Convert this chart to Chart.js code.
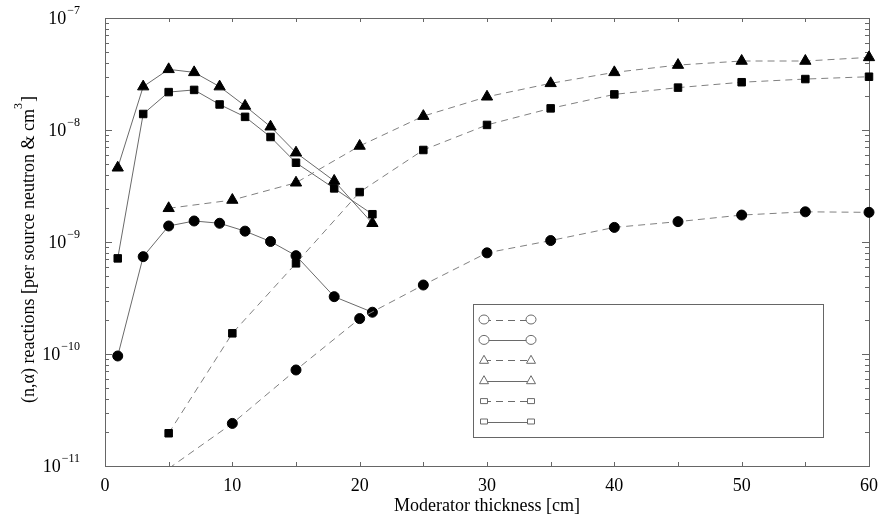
<!DOCTYPE html>
<html>
<head>
<meta charset="utf-8">
<script src="https://cdn.jsdelivr.net/npm/chart.js@4/dist/chart.umd.min.js"></script>
<style>
  html, body { margin: 0; padding: 0; background: #fff; }
</style>
</head>
<body>
<canvas id="reactionChart" width="881" height="516"></canvas>
<script>
// moderator thickness [cm]
var xShort = [1, 3, 5, 7, 9, 11, 13, 15, 18, 21];
var xLong = [5, 10, 15, 20, 25, 30, 35, 40, 45, 50, 55, 60];

// (n,alpha) reactions per source neutron & cm^3
var circleDashed = [9.5e-12, 2.4e-11, 7.2e-11, 2.07e-10, 4.13e-10, 8.0e-10, 1.03e-9, 1.35e-9, 1.52e-9, 1.74e-9, 1.86e-9, 1.84e-9];
var circleSolid = [9.6e-11, 7.4e-10, 1.39e-9, 1.54e-9, 1.47e-9, 1.25e-9, 1.01e-9, 7.55e-10, 3.25e-10, 2.36e-10];
var triangleDashed = [2.0e-9, 2.37e-9, 3.38e-9, 7.2e-9, 1.33e-8, 1.98e-8, 2.61e-8, 3.27e-8, 3.8e-8, 4.13e-8, 4.13e-8, 4.45e-8];
var triangleSolid = [4.6e-9, 2.44e-8, 3.48e-8, 3.27e-8, 2.44e-8, 1.64e-8, 1.07e-8, 6.27e-9, 3.51e-9, 1.47e-9];
var squareDashed = [1.96e-11, 1.53e-10, 6.45e-10, 2.79e-9, 6.63e-9, 1.11e-8, 1.56e-8, 2.08e-8, 2.39e-8, 2.67e-8, 2.85e-8, 2.99e-8];
var squareSolid = [7.14e-10, 1.39e-8, 2.18e-8, 2.28e-8, 1.69e-8, 1.31e-8, 8.66e-9, 5.10e-9, 3.01e-9, 1.77e-9];

var xTicks = [0, 10, 20, 30, 40, 50, 60];
var yExponents = [-7, -8, -9, -10, -11];

var AXIS_COLOR = '#666';
var SERIF = '"Liberation Serif", "Times New Roman", serif';

function pairs(xs, ys) {
    return xs.map(function(x, i) { return { x: x, y: ys[i] }; });
}

function series(xs, ys, style, dashed) {
    return {
        data: pairs(xs, ys),
        showLine: true,
        borderColor: dashed ? '#808080' : '#6a6a6a',
        borderWidth: 1,
        borderDash: dashed ? [7, 5] : [],
        pointStyle: style,
        pointRadius: function(ctx) {
            var v = ctx.raw ? ctx.raw.y : 1;
            if (v < 1e-11) return 0;
            return style === 'triangle' ? 6.5 : (style === 'rect' ? 5.3 : 5);
        },
        pointBackgroundColor: '#000',
        pointBorderColor: '#000',
        pointBorderWidth: 1,
        clip: { left: 8, top: 8, right: 8, bottom: 0 }
    };
}

function drawSymbol(ctx, style, x, y) {
    ctx.beginPath();
    if (style === 'circle') {
        ctx.ellipse(x, y, 5, 4.5, 0, 0, Math.PI * 2);
    } else if (style === 'triangle') {
        ctx.moveTo(x, y - 5);
        ctx.lineTo(x + 4.5, y + 3);
        ctx.lineTo(x - 4.5, y + 3);
        ctx.closePath();
    } else {
        ctx.rect(x - 3.5, y - 2.5, 7, 5);
    }
    ctx.fillStyle = '#fff';
    ctx.fill();
    ctx.stroke();
}

var framePlugin = {
    id: 'frame',
    beforeDatasetsDraw: function(chart) {
        var ctx = chart.ctx;
        var a = chart.chartArea;
        var xs = chart.scales.x, ys = chart.scales.y;
        ctx.save();
        ctx.strokeStyle = AXIS_COLOR;
        ctx.lineWidth = 1;
        ctx.strokeRect(Math.round(a.left) + 0.5, Math.round(a.top) + 0.5,
            Math.round(a.right - a.left), Math.round(a.bottom - a.top));

        // inward ticks, x every 5 cm
        ctx.beginPath();
        for (var v = 5; v < 60; v += 5) {
            var px = Math.round(xs.getPixelForValue(v)) + 0.5;
            ctx.moveTo(px, a.bottom); ctx.lineTo(px, a.bottom - 4);
            ctx.moveTo(px, a.top); ctx.lineTo(px, a.top + 4);
        }
        // log ticks on left and right
        for (var e = -11; e < -7; e++) {
            for (var m = 1; m < 10; m++) {
                if (m === 1 && e === -11) continue;
                var py = Math.round(ys.getPixelForValue(m * Math.pow(10, e))) + 0.5;
                var len = m === 1 ? 7 : 4;
                ctx.moveTo(a.left, py); ctx.lineTo(a.left + len, py);
                ctx.moveTo(a.right, py); ctx.lineTo(a.right - len, py);
            }
        }
        ctx.stroke();
        ctx.restore();
    },
    afterDraw: function(chart) {
        var ctx = chart.ctx;
        var a = chart.chartArea;
        var xs = chart.scales.x, ys = chart.scales.y;
        ctx.save();
        ctx.fillStyle = '#000';

        // x tick labels
        ctx.font = '18px ' + SERIF;
        ctx.textAlign = 'center';
        ctx.textBaseline = 'alphabetic';
        xTicks.forEach(function(t) {
            ctx.fillText(String(t), xs.getPixelForValue(t), a.bottom + 25);
        });
        ctx.fillText('Moderator thickness [cm]', (a.left + a.right) / 2, a.bottom + 45);

        // y tick labels 10^e
        yExponents.forEach(function(e) {
            var py = ys.getPixelForValue(Math.pow(10, e));
            var exp = '\u2212' + String(-e);
            ctx.font = '12px ' + SERIF;
            var expW = ctx.measureText(exp).width;
            var right = 80;
            ctx.textAlign = 'left';
            ctx.fillText(exp, right - expW, py - 4);
            ctx.font = '18px ' + SERIF;
            ctx.textAlign = 'right';
            ctx.fillText('10', right - expW - 1, py + 6);
        });

        // y axis title
        ctx.translate(34, (a.top + a.bottom) / 2 + 8);
        ctx.rotate(-Math.PI / 2);
        var main = '(n,\u03b1) reactions [per source neutron & cm';
        ctx.font = '18px ' + SERIF;
        var w1 = ctx.measureText(main).width;
        var w3 = ctx.measureText(']').width;
        ctx.font = '12px ' + SERIF;
        var w2 = ctx.measureText('3').width;
        var start = -(w1 + w2 + w3) / 2;
        ctx.textAlign = 'left';
        ctx.font = '18px ' + SERIF;
        ctx.fillText(main, start, 0);
        ctx.font = '12px ' + SERIF;
        ctx.fillText('3', start + w1, -12);
        ctx.font = '18px ' + SERIF;
        ctx.fillText(']', start + w1 + w2 + 1, 0);
        ctx.restore();

        // legend box (symbols only)
        var lx = 473, ly = 304, lw = 350, lh = 133;
        ctx.save();
        ctx.fillStyle = '#fff';
        ctx.fillRect(lx, ly, lw, lh);
        ctx.strokeStyle = AXIS_COLOR;
        ctx.lineWidth = 1;
        ctx.strokeRect(lx + 0.5, ly + 0.5, lw, lh);
        chart.data.datasets.forEach(function(ds, i) {
            var rowY = ly + 15.5 + i * 20.4;
            var x1 = 484, x2 = 531;
            ctx.strokeStyle = '#6a6a6a';
            ctx.setLineDash(ds.borderDash);
            ctx.beginPath();
            ctx.moveTo(x1, Math.round(rowY) + 0.5);
            ctx.lineTo(x2, Math.round(rowY) + 0.5);
            ctx.stroke();
            ctx.setLineDash([]);
            drawSymbol(ctx, ds.pointStyle, x1, rowY);
            drawSymbol(ctx, ds.pointStyle, x2, rowY);
        });
        ctx.restore();
    }
};

var chartOptions = {
    type: 'scatter',
    data: {
        datasets: [
            series(xLong, circleDashed, 'circle', true),
            series(xShort, circleSolid, 'circle', false),
            series(xLong, triangleDashed, 'triangle', true),
            series(xShort, triangleSolid, 'triangle', false),
            series(xLong, squareDashed, 'rect', true),
            series(xShort, squareSolid, 'rect', false)
        ]
    },
    options: {
        responsive: false,
        animation: false,
        layout: { padding: { left: 105, top: 18, right: 12, bottom: 50 } },
        plugins: { legend: { display: false }, tooltip: { enabled: false } },
        scales: {
            x: { type: 'linear', min: 0, max: 60, display: false },
            y: { type: 'logarithmic', min: 1e-11, max: 1e-7, display: false }
        }
    },
    plugins: [framePlugin]
};

var canvas = document.getElementById("reactionChart");
var chart = new Chart(canvas, chartOptions);
</script>
</body>
</html>
